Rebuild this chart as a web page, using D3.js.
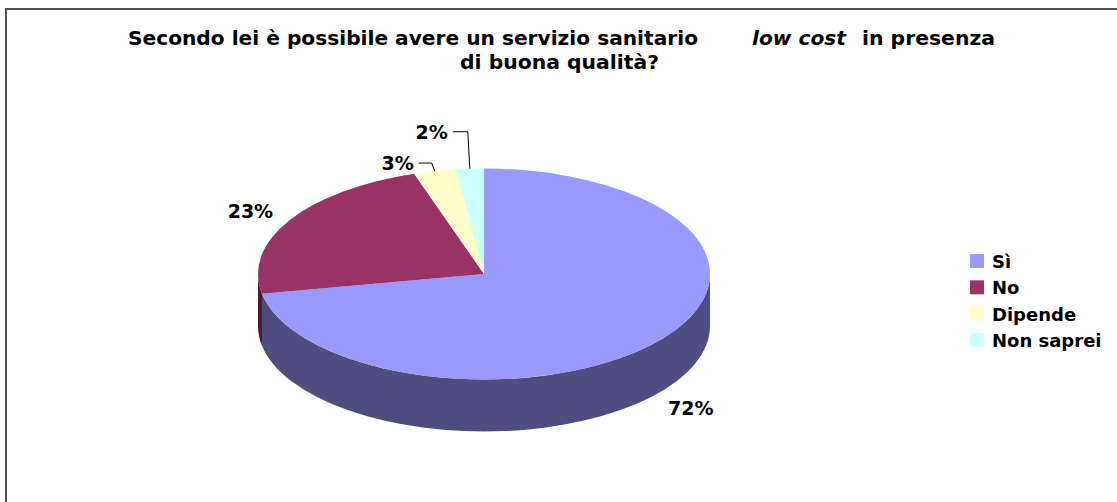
<!DOCTYPE html>
<html>
<head>
<meta charset="utf-8">
<script src="https://cdn.jsdelivr.net/npm/d3@7"></script>
<style>
  html, body { margin: 0; padding: 0; background: #ffffff; }
  svg { display: block; }
</style>
</head>
<body>
<svg id="chart" width="1117" height="502"></svg>
<script>
// Survey answers and their shares (percent)
const categories = ["Sì", "No", "Dipende", "Non saprei"];
const values = [72, 23, 3, 2];
const topColors = ["#9999ff", "#993366", "#ffffcc", "#ccffff"];
const sideColors = ["#4d4d80", "#4d1a33", "#80805f", "#668080"];

const W = 1117, H = 502;
const svg = d3.select("#chart");

// Frame (only top and left edges fall inside the view)
svg.append("path")
  .attr("d", `M6,${H + 5} L6,9 L${W + 5},9`)
  .attr("fill", "none")
  .attr("stroke", "#505050")
  .attr("stroke-width", 2);

// Title
const titleFont = "'DejaVu Sans', Verdana, sans-serif";
const title = svg.append("g")
  .attr("font-family", titleFont)
  .attr("font-weight", "bold")
  .attr("font-size", 19)
  .attr("fill", "#000");
title.append("text").attr("x", 128).attr("y", 45)
  .attr("textLength", 570).attr("lengthAdjust", "spacingAndGlyphs")
  .text("Secondo lei è possibile avere un servizio sanitario");
title.append("text").attr("x", 752).attr("y", 45)
  .attr("font-style", "italic")
  .attr("textLength", 94).attr("lengthAdjust", "spacingAndGlyphs")
  .text("low cost");
title.append("text").attr("x", 862).attr("y", 45)
  .attr("textLength", 133).attr("lengthAdjust", "spacingAndGlyphs")
  .text("in presenza");
title.append("text").attr("x", 460).attr("y", 69)
  .attr("textLength", 199).attr("lengthAdjust", "spacingAndGlyphs")
  .text("di buona qualità?");

// 3D pie geometry
const cx = 484, cy = 274, rx = 226, ry = 105.5, depth = 52;

const pie = d3.pie().sort(null).value(d => d.value).startAngle(0).endAngle(2 * Math.PI);
const data = categories.map((c, i) => ({ name: c, value: values[i] }));
const arcs = pie(data);
const color = d3.scaleOrdinal().domain(categories).range(topColors);
const side = d3.scaleOrdinal().domain(categories).range(sideColors);

// point on the top ellipse for an angle measured clockwise from 12 o'clock
const pt = (a, k = 1, dy = 0) => [cx + k * rx * Math.sin(a), cy - k * ry * Math.cos(a) + dy];

// Side walls: only the front half (angles between PI/2 and 3PI/2) is visible
const walls = svg.append("g");
arcs.forEach(d => {
  const a0 = Math.max(d.startAngle, Math.PI / 2);
  const a1 = Math.min(d.endAngle, 3 * Math.PI / 2);
  if (a1 <= a0) return;
  const p0 = pt(a0), p1 = pt(a1);
  const large = (a1 - a0) > Math.PI ? 1 : 0;
  const path =
    `M${p0[0]},${p0[1]}` +
    ` A${rx},${ry} 0 ${large} 1 ${p1[0]},${p1[1]}` +
    ` L${p1[0]},${p1[1] + depth}` +
    ` A${rx},${ry} 0 ${large} 0 ${p0[0]},${p0[1] + depth} Z`;
  walls.append("path")
    .attr("d", path)
    .attr("fill", side(d.data.name));
});

// Top faces: circular arcs squashed into the ellipse
const arcGen = d3.arc().innerRadius(0).outerRadius(rx);
svg.append("g")
  .attr("transform", `translate(${cx},${cy}) scale(1,${ry / rx})`)
  .selectAll("path")
  .data(arcs)
  .join("path")
  .attr("d", arcGen)
  .attr("fill", d => color(d.data.name));

// Percentage labels
const labelFont = "'DejaVu Sans', Verdana, sans-serif";
const labels = svg.append("g")
  .attr("font-family", labelFont)
  .attr("font-weight", "bold")
  .attr("font-size", 19)
  .attr("fill", "#000");

// large slices: label placed just outside the rim
arcs.forEach(d => {
  const mid = (d.startAngle + d.endAngle) / 2;
  if (d.value < 5) return;
  const front = Math.cos(mid) < 0;
  const p = pt(mid, 1.17, front ? depth : 0);
  labels.append("text")
    .attr("x", p[0] + (front ? 3 : -6))
    .attr("y", p[1] + (front ? 10 : 7))
    .attr("text-anchor", "middle")
    .text(d.value + "%");
});

// small slices: label with a leader line from the rim
const leaderLayout = { "Dipende": { rise: 8, elbowDx: -3, run: 13 }, "Non saprei": { rise: 37, elbowDx: -2, run: 15 } };
arcs.forEach(d => {
  if (d.value >= 5) return;
  const mid = (d.startAngle + d.endAngle) / 2;
  const L = leaderLayout[d.data.name];
  const a = pt(mid);
  const e = [a[0] + L.elbowDx, a[1] - L.rise];
  const t = [e[0] - L.run, e[1]];
  svg.append("path")
    .attr("d", `M${a[0]},${a[1]} L${e[0]},${e[1]} L${t[0]},${t[1]}`)
    .attr("fill", "none")
    .attr("stroke", "#000")
    .attr("stroke-width", 1);
  labels.append("text")
    .attr("x", t[0] - 5)
    .attr("y", t[1] + 7)
    .attr("text-anchor", "end")
    .text(d.value + "%");
});

// Legend
const legend = svg.append("g")
  .attr("font-family", labelFont)
  .attr("font-weight", "bold")
  .attr("font-size", 18);
const rowY = d3.scalePoint().domain(categories).range([261, 340]);
categories.forEach(c => {
  const y = rowY(c);
  legend.append("rect")
    .attr("x", 970).attr("y", y - 7)
    .attr("width", 14).attr("height", 14)
    .attr("fill", color(c));
  legend.append("text")
    .attr("x", 992).attr("y", y + 7)
    .attr("fill", "#000")
    .text(c);
});
</script>
</body>
</html>
